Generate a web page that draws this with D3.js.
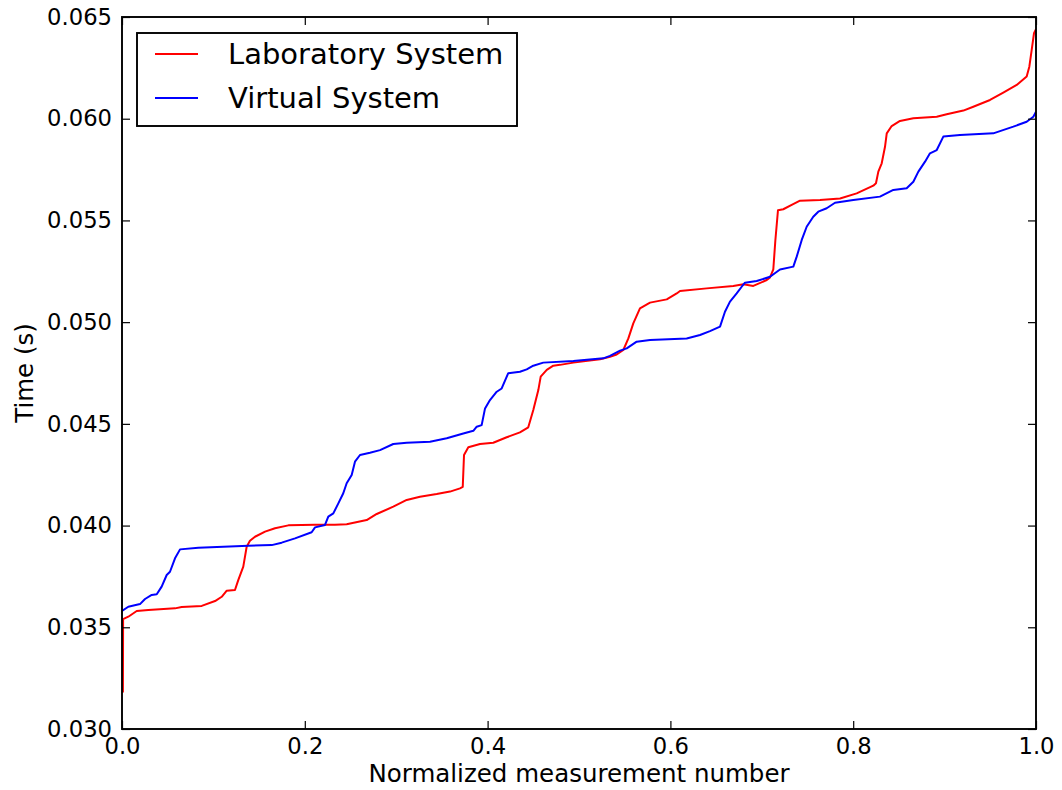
<!DOCTYPE html>
<html>
<head>
<meta charset="utf-8">
<script src="https://cdn.jsdelivr.net/npm/d3@7"></script>
<style>
  body { margin: 0; background: #fff; }
  svg { display: block; font-family: "DejaVu Sans", sans-serif; }
</style>
</head>
<body>
<div id="chart"></div>
<script>
const laboratory = [
  [0.001, 0.0318], [0.0012, 0.0354], [0.0069, 0.03552], [0.0161, 0.0358], [0.0288, 0.03585],
  [0.058, 0.03593], [0.0653, 0.036], [0.0872, 0.03605], [0.1018, 0.03629], [0.1091, 0.0365],
  [0.1146, 0.0368], [0.1236, 0.03683], [0.1272, 0.03732], [0.1327, 0.03798], [0.1364, 0.03896],
  [0.14, 0.03925], [0.1455, 0.03945], [0.1565, 0.0397], [0.1674, 0.03987], [0.182, 0.04001],
  [0.2112, 0.04004], [0.233, 0.04004], [0.2458, 0.04006], [0.2677, 0.04027], [0.2787, 0.04057],
  [0.2968, 0.04093], [0.3115, 0.04126], [0.326, 0.04142], [0.3443, 0.04155], [0.3589, 0.04167],
  [0.3698, 0.04183], [0.3728, 0.0419], [0.3742, 0.04347], [0.3789, 0.04385], [0.3917, 0.04401],
  [0.4062, 0.04407], [0.4209, 0.04434], [0.4354, 0.04458], [0.4445, 0.04483], [0.45, 0.04568],
  [0.4555, 0.04666], [0.4581, 0.04732], [0.4647, 0.04765], [0.4719, 0.04786], [0.4792, 0.0479],
  [0.4938, 0.04801], [0.523, 0.04817], [0.5339, 0.0483], [0.5412, 0.04841], [0.5485, 0.04863],
  [0.554, 0.0492], [0.5594, 0.04994], [0.5667, 0.05068], [0.5777, 0.05096], [0.596, 0.05112],
  [0.6069, 0.05141], [0.6105, 0.05153], [0.6397, 0.05166], [0.6688, 0.05178], [0.6798, 0.05186],
  [0.6907, 0.05178], [0.7054, 0.05207], [0.709, 0.0522], [0.7126, 0.0526], [0.7148, 0.054],
  [0.7177, 0.0555], [0.7235, 0.05555], [0.7327, 0.05576], [0.7418, 0.05597], [0.7637, 0.056],
  [0.7856, 0.05608], [0.8038, 0.05633], [0.822, 0.05671], [0.8249, 0.05683], [0.8275, 0.0574],
  [0.8312, 0.05781], [0.8348, 0.05862], [0.8367, 0.05928], [0.8421, 0.05964], [0.8512, 0.05989],
  [0.8658, 0.06002], [0.8914, 0.0601], [0.9023, 0.06022], [0.9205, 0.0604], [0.9314, 0.06059],
  [0.9497, 0.06092], [0.9642, 0.06128], [0.9789, 0.06166], [0.9898, 0.06207], [0.9927, 0.06256],
  [0.9953, 0.06338], [0.9978, 0.0642], [1, 0.0644]
];

const virtual = [
  [0, 0.0358], [0.0069, 0.03601], [0.0197, 0.03614], [0.0252, 0.03639], [0.0325, 0.03659],
  [0.038, 0.03662], [0.0434, 0.037], [0.0489, 0.03757], [0.0525, 0.03773], [0.058, 0.03839],
  [0.0635, 0.03883], [0.0835, 0.03891], [0.1382, 0.03901], [0.1638, 0.03904], [0.1747, 0.03916],
  [0.1893, 0.03937], [0.2075, 0.03967], [0.2112, 0.03991], [0.2221, 0.04003], [0.2257, 0.04044],
  [0.2312, 0.0406], [0.2367, 0.04109], [0.2421, 0.04159], [0.2458, 0.04208], [0.2513, 0.04249],
  [0.2549, 0.04314], [0.2604, 0.04347], [0.2713, 0.04358], [0.2823, 0.04371], [0.2968, 0.04401],
  [0.3115, 0.04407], [0.337, 0.04412], [0.3553, 0.04429], [0.3734, 0.04453], [0.3844, 0.04466],
  [0.3881, 0.04486], [0.3935, 0.04494], [0.3972, 0.04576], [0.4026, 0.04617], [0.41, 0.04658],
  [0.4154, 0.04674], [0.4226, 0.04749], [0.4354, 0.04756], [0.4428, 0.04768], [0.45, 0.04786],
  [0.4609, 0.04801], [0.4938, 0.04809], [0.5266, 0.04822], [0.5339, 0.04834], [0.5449, 0.0486],
  [0.5522, 0.04871], [0.5631, 0.04904], [0.5777, 0.04912], [0.6178, 0.0492], [0.6324, 0.04937],
  [0.6433, 0.04956], [0.6543, 0.04978], [0.6597, 0.05051], [0.6652, 0.05101], [0.6725, 0.05141],
  [0.678, 0.05174], [0.6816, 0.05194], [0.6944, 0.05202], [0.709, 0.05223], [0.7199, 0.05259],
  [0.7345, 0.05273], [0.7382, 0.05322], [0.7437, 0.05404], [0.7491, 0.05469], [0.7563, 0.05518],
  [0.7618, 0.05543], [0.771, 0.0556], [0.7801, 0.05587], [0.8001, 0.056], [0.8293, 0.05617],
  [0.8439, 0.0565], [0.8585, 0.05658], [0.8658, 0.0569], [0.8713, 0.0574], [0.8786, 0.05789],
  [0.884, 0.0583], [0.8914, 0.05846], [0.8986, 0.05912], [0.9168, 0.0592], [0.9533, 0.05928],
  [0.9752, 0.05961], [0.9898, 0.05985], [0.9971, 0.0601], [1, 0.06034]
];

const seriesNames = ["Laboratory System", "Virtual System"];
const seriesColors = ["#ff0000", "#0000ff"];
const xTicks = [0, 0.2, 0.4, 0.6, 0.8, 1.0];
const yTicks = [0.030, 0.035, 0.040, 0.045, 0.050, 0.055, 0.060, 0.065];
const xLabel = "Normalized measurement number";
const yLabel = "Time (s)";

const width = 1062, height = 790;
const margin = { top: 17, right: 26, bottom: 61, left: 122 };
const tickSize = 8;
const tickFont = 22.7;
const labelFont = 24.5;

const x = d3.scaleLinear().domain([0, 1]).range([margin.left, width - margin.right]);
const y = d3.scaleLinear().domain([0.030, 0.065]).range([height - margin.bottom, margin.top]);

const svg = d3.select("#chart").append("svg")
  .attr("width", width)
  .attr("height", height)
  .attr("viewBox", [0, 0, width, height]);

// Lines, clipped to the axes box
svg.append("defs").append("clipPath").attr("id", "plot")
  .append("rect")
  .attr("x", x(0)).attr("y", y(0.065))
  .attr("width", x(1) - x(0)).attr("height", y(0.030) - y(0.065));

const line = d3.line().x(d => x(d[0])).y(d => y(d[1]));

svg.append("g")
  .attr("clip-path", "url(#plot)")
  .attr("fill", "none")
  .attr("stroke-width", 2)
  .attr("stroke-linejoin", "round")
  .selectAll("path")
  .data([laboratory, virtual])
  .join("path")
  .attr("stroke", (_, i) => seriesColors[i])
  .attr("d", line);

// Ticks point inward on all four sides (classic matplotlib)
const styleAxis = g => {
  g.select(".domain").remove();
  g.selectAll(".tick line").attr("stroke", "#000").attr("stroke-width", 1.2);
  g.selectAll(".tick text").attr("fill", "#000").attr("font-size", tickFont);
};

svg.append("g")
  .attr("transform", `translate(0,${y(0.030)})`)
  .call(d3.axisBottom(x).tickValues(xTicks).tickFormat(d3.format(".1f"))
    .tickSizeInner(-tickSize).tickSizeOuter(0).tickPadding(9))
  .call(styleAxis)
  .attr("font-family", null);

svg.append("g")
  .attr("transform", `translate(0,${y(0.065)})`)
  .call(d3.axisTop(x).tickValues(xTicks).tickFormat("").tickSizeInner(-tickSize).tickSizeOuter(0))
  .call(styleAxis);

svg.append("g")
  .attr("transform", `translate(${x(0)},0)`)
  .call(d3.axisLeft(y).tickValues(yTicks).tickFormat(d3.format(".3f"))
    .tickSizeInner(-tickSize).tickSizeOuter(0).tickPadding(10))
  .call(styleAxis)
  .attr("font-family", null);

svg.append("g")
  .attr("transform", `translate(${x(1)},0)`)
  .call(d3.axisRight(y).tickValues(yTicks).tickFormat("").tickSizeInner(-tickSize).tickSizeOuter(0))
  .call(styleAxis);

// Frame
svg.append("rect")
  .attr("x", x(0)).attr("y", y(0.065))
  .attr("width", x(1) - x(0)).attr("height", y(0.030) - y(0.065))
  .attr("fill", "none")
  .attr("stroke", "#000")
  .attr("stroke-width", 1.9);

// Axis titles
svg.append("text")
  .attr("x", (x(0) + x(1)) / 2)
  .attr("y", 782)
  .attr("text-anchor", "middle")
  .attr("font-size", labelFont)
  .text(xLabel);

svg.append("text")
  .attr("transform", `translate(33,${(y(0.030) + y(0.065)) / 2}) rotate(-90)`)
  .attr("text-anchor", "middle")
  .attr("font-size", labelFont)
  .text(yLabel);

// Legend
const legend = svg.append("g").attr("transform", "translate(137,33)");

legend.append("rect")
  .attr("width", 380)
  .attr("height", 93)
  .attr("fill", "#fff")
  .attr("stroke", "#000")
  .attr("stroke-width", 1.9);

const item = legend.selectAll("g.item")
  .data(seriesNames)
  .join("g")
  .attr("class", "item")
  .attr("transform", (_, i) => `translate(0,${21 + i * 44})`);

item.append("line")
  .attr("x1", 18).attr("x2", 61)
  .attr("stroke", (_, i) => seriesColors[i])
  .attr("stroke-width", 1.9);

item.append("text")
  .attr("x", 91)
  .attr("dy", "0.36em")
  .attr("font-size", 29)
  .attr("fill", "#000")
  .text(d => d);
</script>
</body>
</html>
